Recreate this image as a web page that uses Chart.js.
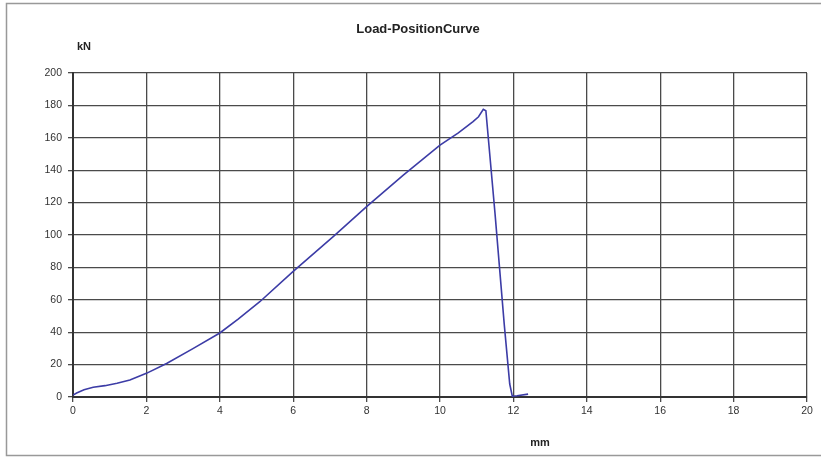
<!DOCTYPE html>
<html>
<head>
<meta charset="utf-8">
<script src="https://cdn.jsdelivr.net/npm/chart.js@4/dist/chart.umd.min.js"></script>
<style>
  html, body { margin: 0; padding: 0; background: #fff; }
  #wrap { width: 821px; height: 457px; position: relative; }
</style>
</head>
<body>
<div id="wrap"><canvas id="c" width="821" height="457"></canvas></div>
<script>
// ---- data ----
const titleText = "Load-PositionCurve";
const yUnit = "kN";
const xUnit = "mm";
const positionMm = [0, 0.1, 0.3, 0.55, 0.87, 1.2, 1.55, 2.0, 2.55, 3.28, 4.0, 4.5, 5.09, 6.0, 7.09, 8.0, 9.0, 10.0, 10.5, 10.9, 11.05, 11.18, 11.25, 11.5, 11.75, 11.9, 11.97, 12.1, 12.4];
const loadKN     = [1.2, 2.5, 4.5, 6, 7, 8.5, 10.5, 14.6, 20.7, 30, 39.5, 48, 58.8, 77.5, 99, 117.5, 137, 155.5, 163, 170, 173, 177.6, 176.7, 113, 45, 8, 0.5, 0.8, 1.8];
const xMin = 0, xMax = 20, xStep = 2;
const yMin = 0, yMax = 200, yStep = 20;

const points = positionMm.map((x, i) => ({ x: x, y: loadKN[i] }));

const decor = {
  id: 'decor',
  beforeDraw(chart) {
    const ctx = chart.ctx;
    ctx.save();
    ctx.fillStyle = '#fff';
    ctx.fillRect(0, 0, chart.width, chart.height);
    ctx.restore();
  },
  afterDraw(chart) {
    const ctx = chart.ctx;
    const a = chart.chartArea;
    ctx.save();
    ctx.strokeStyle = '#999';
    ctx.lineWidth = 1.5;
    ctx.strokeRect(6.5, 3.5, 830, 452);
    ctx.fillStyle = '#222';
    ctx.textAlign = 'center';
    ctx.textBaseline = 'middle';
    ctx.font = 'bold 13px "Liberation Sans", Arial, sans-serif';
    ctx.fillText(titleText, 418, 29);
    ctx.font = 'bold 11px "Liberation Sans", Arial, sans-serif';
    ctx.fillText(yUnit, a.left + 11, 47);
    ctx.fillText(xUnit, 540, 443);
    ctx.restore();
  }
};

new Chart(document.getElementById('c'), {
  type: 'scatter',
  data: {
    datasets: [{
      data: points,
      showLine: true,
      borderColor: '#3c3ca6',
      borderWidth: 1.6,
      pointRadius: 0,
      fill: false,
      tension: 0
    }]
  },
  options: {
    responsive: false,
    animation: false,
    layout: { padding: { top: 73, right: 14, left: 0, bottom: 0 } },
    plugins: { legend: { display: false }, title: { display: false }, tooltip: { enabled: false } },
    scales: {
      x: {
        type: 'linear', min: xMin, max: xMax,
        afterFit(s) { s.height = 60; },
        ticks: { stepSize: xStep, color: '#333', padding: 3, font: { size: 10.5, family: '"Liberation Sans", Arial, sans-serif' } },
        grid: { color: '#4a4a4a', lineWidth: 1.3, tickLength: 5, tickColor: '#4a4a4a' },
        border: { color: '#333', width: 2 }
      },
      y: {
        type: 'linear', min: yMin, max: yMax,
        afterFit(s) { s.width = 73; },
        ticks: { stepSize: yStep, color: '#333', padding: 6, font: { size: 10.5, family: '"Liberation Sans", Arial, sans-serif' } },
        grid: { color: '#4a4a4a', lineWidth: 1.3, tickLength: 5, tickColor: '#4a4a4a' },
        border: { color: '#333', width: 2 }
      }
    }
  },
  plugins: [decor]
});
</script>
</body>
</html>
